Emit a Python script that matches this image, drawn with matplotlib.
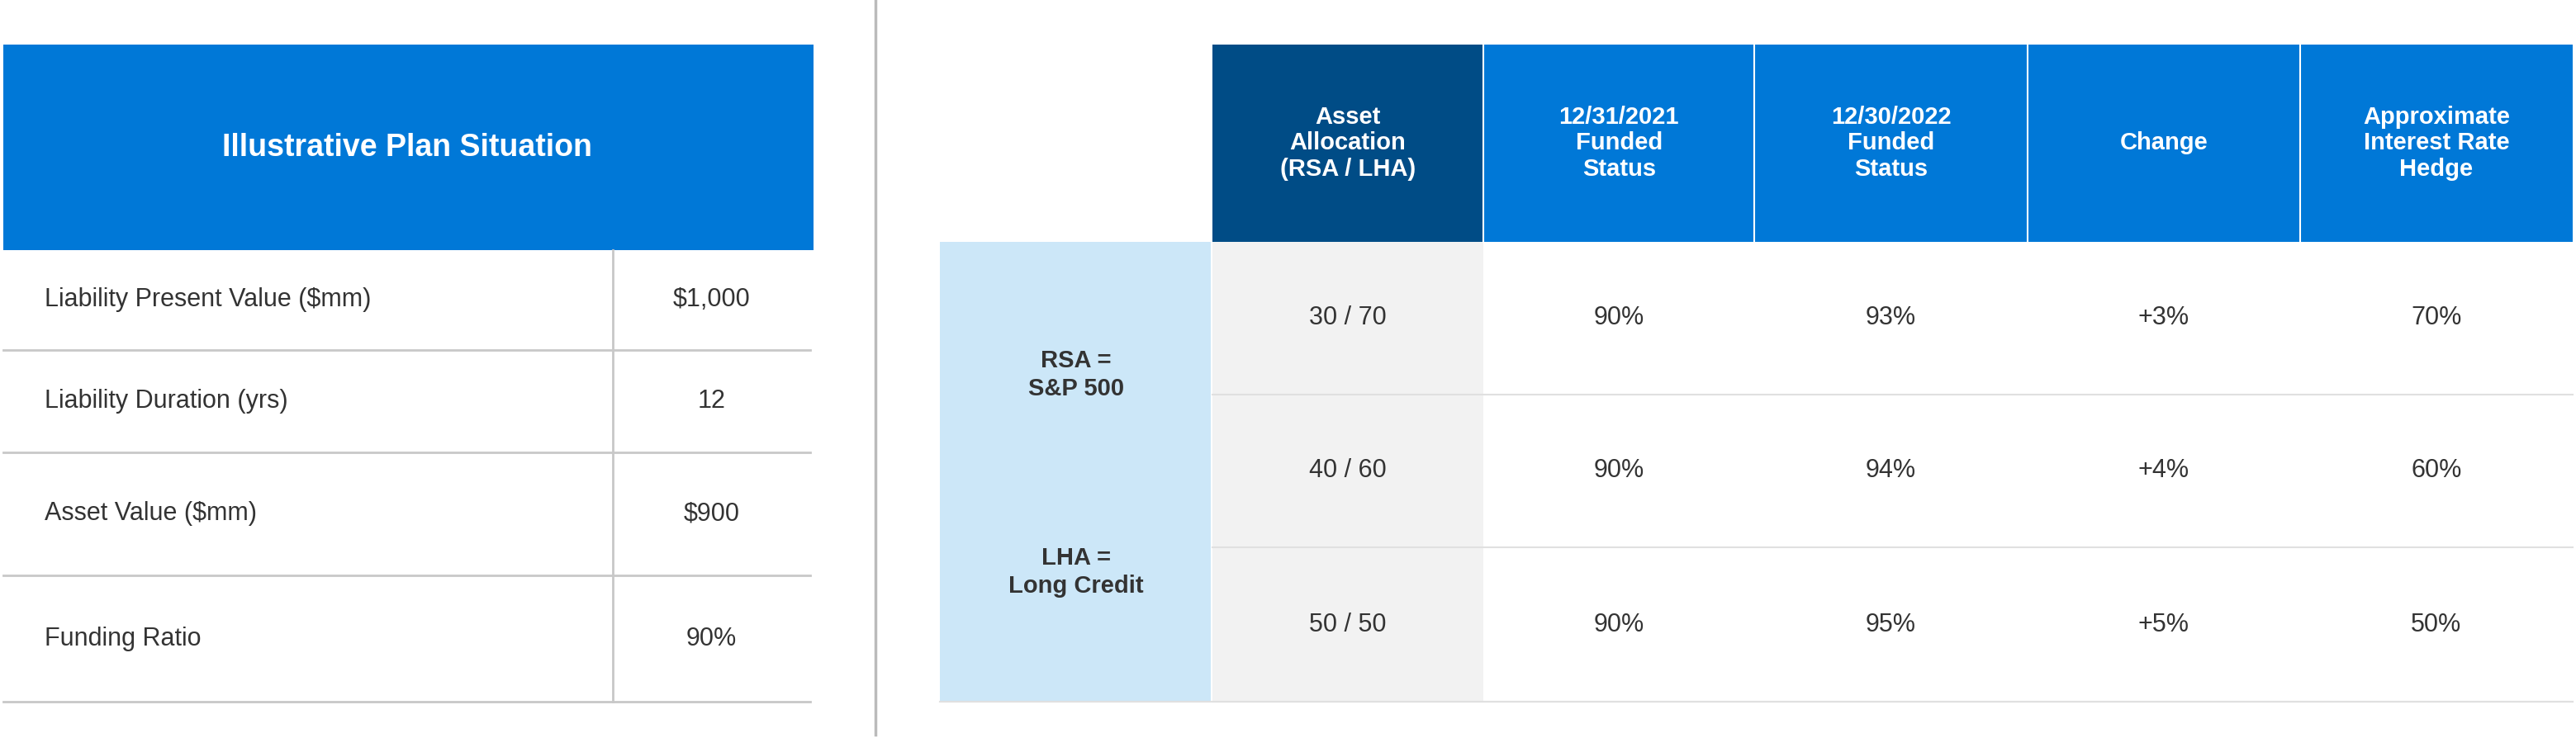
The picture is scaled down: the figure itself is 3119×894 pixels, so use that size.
import matplotlib
matplotlib.use("Agg")
import matplotlib.pyplot as plt
from matplotlib.patches import Rectangle

plt.rcParams['font.family'] = ['Liberation Sans', 'DejaVu Sans']

left_title = "Illustrative Plan Situation"
left_labels = ["Liability Present Value ($mm)", "Liability Duration (yrs)", "Asset Value ($mm)", "Funding Ratio"]
left_values = ["$1,000", "12", "$900", "90%"]

headers = ["Asset\nAllocation\n(RSA / LHA)", "12/31/2021\nFunded\nStatus", "12/30/2022\nFunded\nStatus", "Change", "Approximate\nInterest Rate\nHedge"]
side_label = ["RSA =\nS&P 500", "LHA =\nLong Credit"]
allocations = ["30 / 70", "40 / 60", "50 / 50"]
fs_2021 = ["90%", "90%", "90%"]
fs_2022 = ["93%", "94%", "95%"]
change = ["+3%", "+4%", "+5%"]
hedge = ["70%", "60%", "50%"]

W, H = 1568, 449
fig = plt.figure(figsize=(31.19, 8.94), dpi=100)
ax = fig.add_axes([0, 0, 1, 1])
ax.set_xlim(0, W); ax.set_ylim(H, 0); ax.axis('off')

BLUE = "#0078D7"; NAVY = "#004C86"; LBLUE = "#CCE7F8"; GRAY = "#F2F2F2"; LINE = "#C8C8C8"; TXT = "#333333"

# Left table
ax.add_patch(Rectangle((2, 27), 493, 125, color=BLUE, lw=0))
ax.text(248, 90, left_title, color="white", fontsize=27, fontweight="bold", ha="center", va="center")
rows = [152, 213, 275, 350, 427]
for i in range(4):
    y0, y1 = rows[i], rows[i+1]
    ax.plot([2, 493], [y1, y1], color=LINE, lw=2)
    ax.text(27, (y0+y1)/2, left_labels[i], color=TXT, fontsize=22, va="center", ha="left")
    ax.text(433, (y0+y1)/2, left_values[i], color=TXT, fontsize=22, va="center", ha="center")
ax.plot([373, 373], [152, 427], color=LINE, lw=2)

ax.plot([533, 533], [0, 447], color="#BBBBBB", lw=2.5)

# Right table
cols = [738, 903, 1068, 1234, 1400, 1566]
for j, h in enumerate(headers):
    ax.add_patch(Rectangle((cols[j], 27), cols[j+1]-cols[j], 120, color=NAVY if j == 0 else BLUE, lw=0))
    if j > 0:
        ax.plot([cols[j], cols[j]], [27, 147], color="white", lw=1.5)
    ax.text((cols[j]+cols[j+1])/2, 87, h, color="white", fontsize=21, fontweight="bold",
            ha="center", va="center", linespacing=1.15)
ax.add_patch(Rectangle((572, 147), 165, 280, color=LBLUE, lw=0))
ax.add_patch(Rectangle((738, 147), 165, 280, color=GRAY, lw=0))
ax.text(655, 228, side_label[0], color=TXT, fontsize=21, fontweight="bold", ha="center", va="center", linespacing=1.3)
ax.text(655, 348, side_label[1], color=TXT, fontsize=21, fontweight="bold", ha="center", va="center", linespacing=1.3)
rrows = [147, 240, 333, 427]
for i in range(3):
    y0, y1 = rrows[i], rrows[i+1]
    ax.plot([738, 1566], [y1, y1], color="#E0E0E0", lw=1.5)
    ym = (y0+y1)/2
    for j, vals in enumerate([allocations, fs_2021, fs_2022, change, hedge]):
        ax.text((cols[j]+cols[j+1])/2, ym, vals[i], color=TXT, fontsize=22, ha="center", va="center")
ax.plot([572, 1566], [427, 427], color="#E0E0E0", lw=1.5)

fig.savefig("out.png", dpi=100, facecolor="white")
